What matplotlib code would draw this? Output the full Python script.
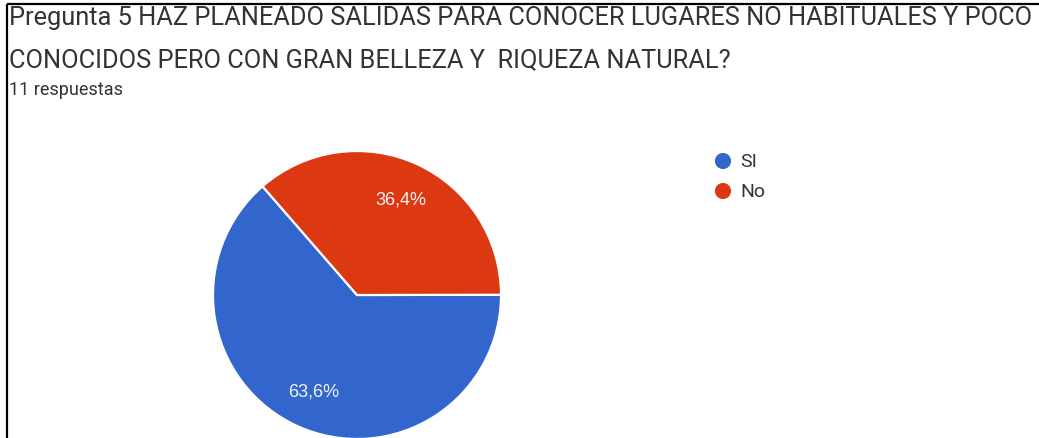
import matplotlib
matplotlib.use("Agg")
import matplotlib.pyplot as plt

# Survey answers
categories = ["SI", "No"]
counts = [7, 4]
pct_labels = ["63,6%", "36,4%"]
colors = ["#3366CC", "#DC3912"]

title_lines = [
    "Pregunta 5 HAZ PLANEADO SALIDAS PARA CONOCER LUGARES NO HABITUALES Y POCO",
    "CONOCIDOS PERO CON GRAN BELLEZA Y  RIQUEZA NATURAL?",
]
subtitle = "11 respuestas"

W, H = 1039, 439
fig = plt.figure(figsize=(W / 100, H / 100), dpi=100)
ax = fig.add_axes([0, 0, 1, 1])

font = "Roboto"
text_color = "#333333"

cx, cy, r = 357, H - 296, 144
wedges, texts, autotexts = ax.pie(
    counts,
    colors=colors,
    startangle=131,
    counterclock=True,
    center=(cx, cy),
    radius=r,
    autopct=lambda p: "",
    pctdistance=0.73,
    wedgeprops=dict(edgecolor="white", linewidth=1.6),
)
for t, lab in zip(autotexts, pct_labels):
    t.set_text(lab)
    t.set_color("#f2f2f2")
    t.set_fontsize(13)
    t.set_fontfamily("Liberation Sans")

ax.set_xlim(0, W)
ax.set_ylim(0, H)
ax.set_aspect("auto")
ax.axis("off")

# Titles
ax.text(9, H - 25, title_lines[0], fontsize=18.3, family=font, color=text_color, va="baseline")
ax.text(9, H - 67, title_lines[1], fontsize=18.3, family=font, color=text_color, va="baseline")
ax.text(9, H - 95, subtitle, fontsize=13, family=font, color=text_color, va="baseline")

# Legend
leg_y = [H - 162, H - 192]
for name, col, y in zip(categories, colors, leg_y):
    ax.scatter([723], [y], s=135, color=col, edgecolors="none", zorder=3)
    ax.text(740, y, name, fontsize=14, family=font, color=text_color, va="center")

# Frame edges
ax.plot([7, W], [H - 5, H - 5], color="black", lw=1.6, solid_capstyle="butt", clip_on=False)
ax.plot([7, 7], [0, H - 5], color="black", lw=1.6, solid_capstyle="butt", clip_on=False)

fig.savefig("out.png", dpi=100, facecolor="white")
